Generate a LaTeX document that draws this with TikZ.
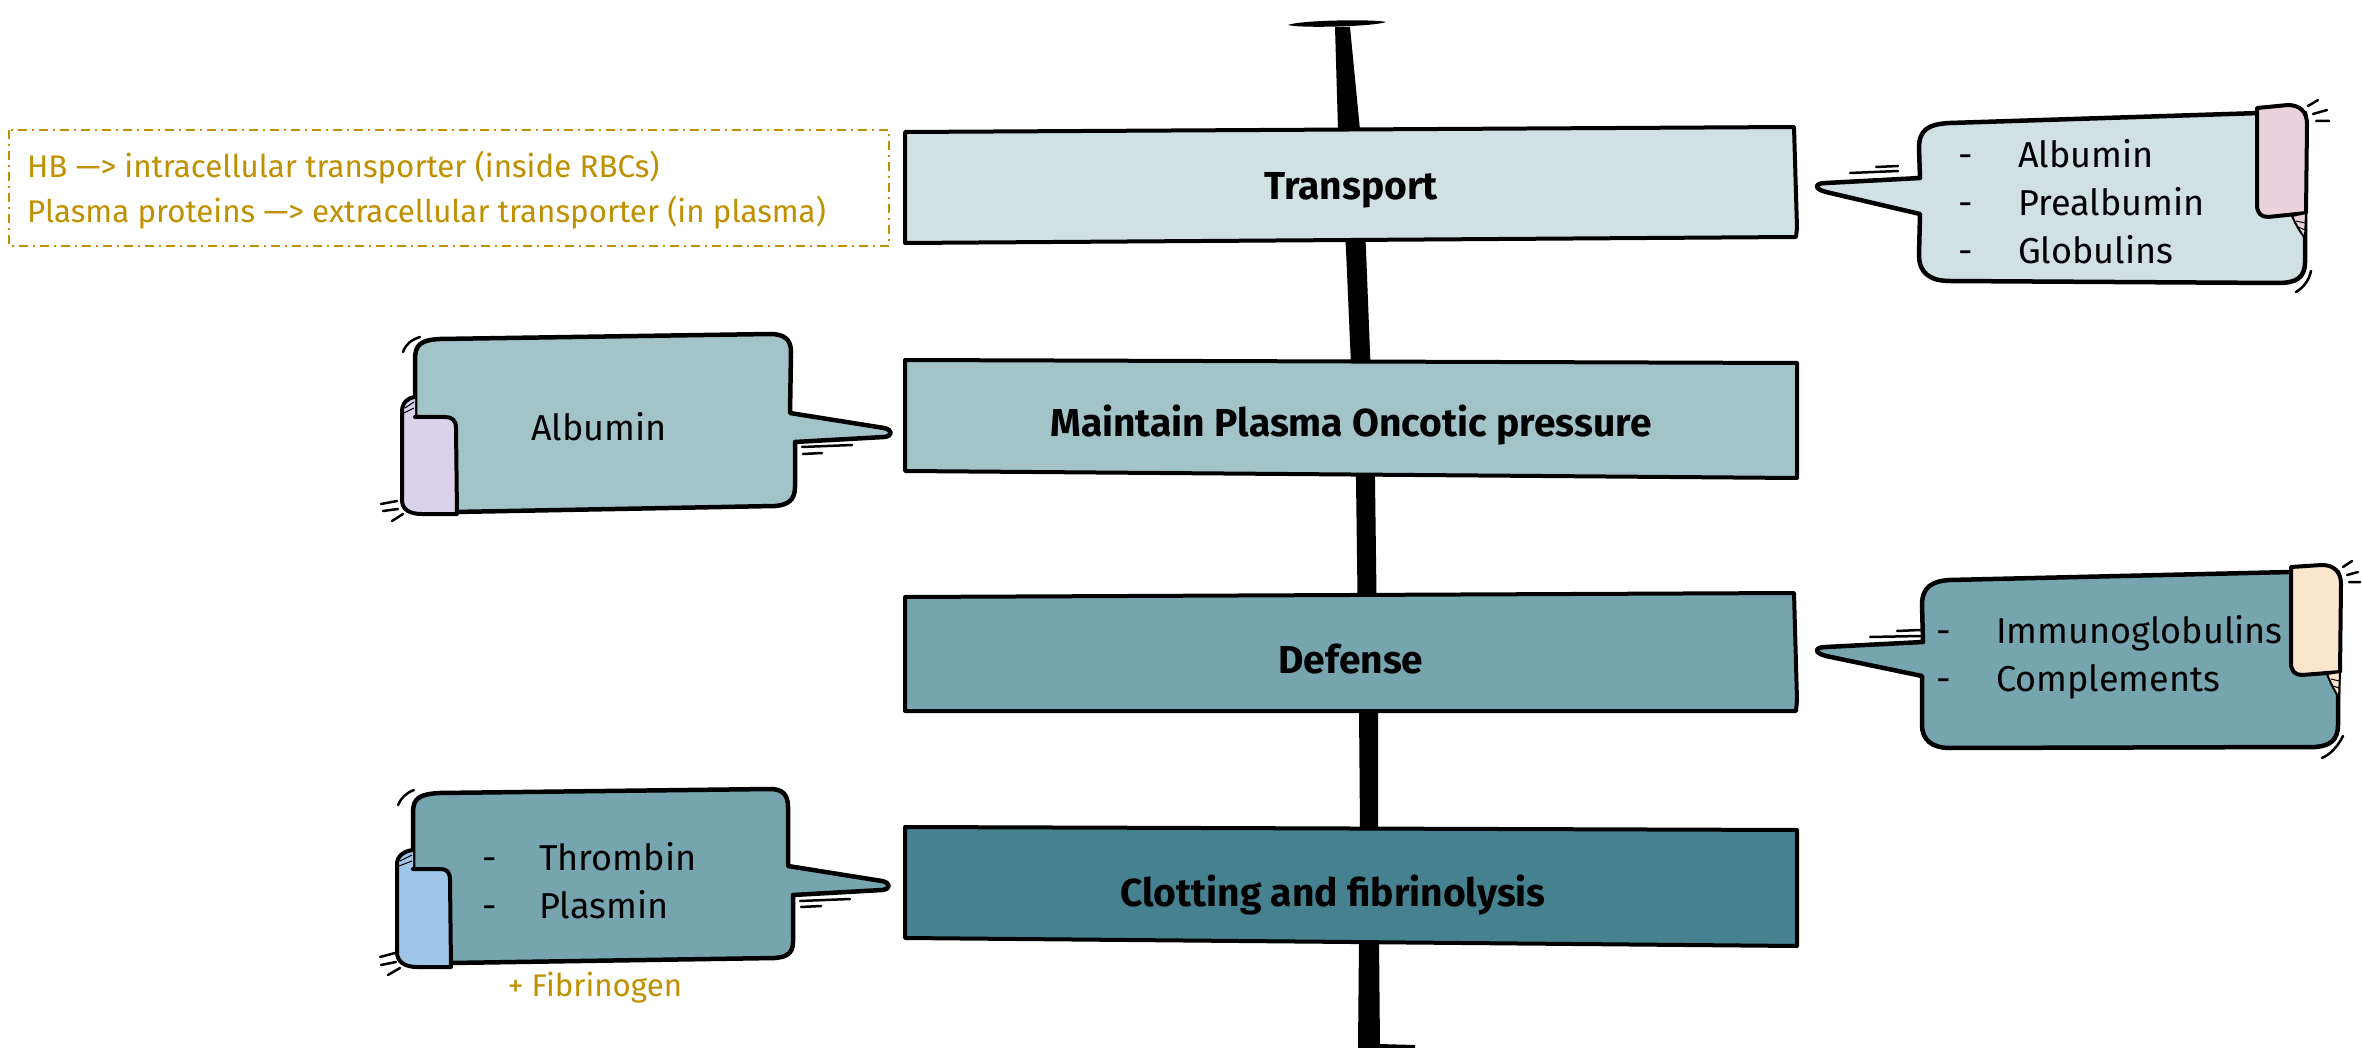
\documentclass[tikz,border=0pt]{standalone}
\usepackage{fontspec}
\setmainfont{Fira Sans}
\definecolor{c1}{HTML}{D0E0E3}
\definecolor{c2}{HTML}{A2C4C9}
\definecolor{c3}{HTML}{76A5AF}
\definecolor{c4}{HTML}{45818E}
\definecolor{gold}{HTML}{BF9000}
\definecolor{pinkc}{HTML}{EAD1DC}
\definecolor{lavc}{HTML}{D9D2E9}
\definecolor{peachc}{HTML}{FCE5CD}
\definecolor{bluec}{HTML}{9FC5E8}
\begin{document}
\begin{tikzpicture}[x=1pt,y=-1pt,
 boxline/.style={draw=black, line width=4pt, line join=round},
 bubble/.style={draw=black, line width=4.5pt, line join=round, line cap=round},
 scroll/.style={draw=black, line width=4pt, line join=round, line cap=round},
 speedmark/.style={draw=black, line width=2.5pt, line cap=round},
 hatch/.style={draw=black, line width=1pt},
 boxtext/.style={font=\fontsize{39}{44}\selectfont\bfseries, inner sep=0},
 bubtext/.style={font=\fontsize{36}{48}\selectfont, align=left, inner sep=0},
 notetext/.style={font=\fontsize{31.3}{45}\selectfont, text=gold, align=left, inner sep=0}]
\useasboundingbox (0,0) rectangle (2362,1048);
\fill[white] (0,0) rectangle (2362,1048);

% spine
\fill[black] (1335,27) -- (1338,130) -- (1346,250) -- (1356,480) -- (1359,710) -- (1360,830) -- (1358,1048)
  -- (1380,1048) -- (1378,830) -- (1378,710) -- (1375,480) -- (1366,250) -- (1360,130) -- (1350,27) -- cycle;
\fill[black] (1288,25) .. controls (1300,20) and (1375,19) .. (1386,22) .. controls (1375,26.5) and (1300,28.5) .. (1288,25) -- cycle;
\fill[black] (1378,1044) -- (1415,1045) -- (1415,1048) -- (1378,1048) -- cycle;

% main boxes
\path[boxline, fill=c1] (905,132) -- (1794,127) -- (1797,228) -- (1796,237) -- (905,243) -- cycle;
\path[boxline, fill=c2] (905,360) -- (1797,363) -- (1797,478) -- (905,471) -- cycle;
\path[boxline, fill=c3] (905,597) -- (1794,593) -- (1797,700) -- (1796,711) -- (905,711) -- cycle;
\path[boxline, fill=c4] (905,827) -- (1797,830) -- (1797,946) -- (905,938) -- cycle;
\node[boxtext] (transport) at (1351,190) {Transport};
\node[boxtext] (oncotic) at (1351,425) {Maintain Plasma Oncotic pressure};
\node[boxtext] (defense) at (1351,659) {Defense};
\node[boxtext] (clotting) at (1333,895) {Clotting and fibrinolysis};

% note
\draw[gold, line width=1.5pt, dash pattern=on 9pt off 5pt on 2pt off 5pt] (9,130) rectangle (889,246);
\node[notetext, anchor=west] (note) at (27,190) {HB —> intracellular transporter (inside RBCs)\\Plasma proteins —> extracellular transporter (in plasma)};

% transport callout
\path[bubble, fill=c1] (1920,178) -- (1919,148) .. controls (1919,130) and (1928,124) .. (1950,123) -- (2260,113) -- (2305,113) -- (2305,262)
  .. controls (2305,278) and (2296,283) .. (2278,283) -- (1950,281) .. controls (1930,281) and (1919,273) .. (1919,255) -- (1920,214)
  -- (1826,192) .. controls (1814,189) and (1814,183) .. (1826,183) -- cycle;
\path[scroll, fill=pinkc] (2257,108) -- (2288,105) .. controls (2300,105) and (2307,112) .. (2307,124) -- (2306,213) -- (2268,217)
  .. controls (2261,217) and (2257,213) .. (2257,205) -- cycle;
\path[draw=black, line width=2pt, fill=pinkc] (2292,216) -- (2306,213) -- (2305,238) .. controls (2300,232) and (2296,225) .. (2292,216) -- cycle;
\draw[hatch] (2296,221) -- (2305,223) (2298,227) -- (2305,230);
\draw[speedmark] (2308,106) -- (2318,100) (2313,114) -- (2327,110) (2316,121) -- (2329,121);
\draw[speedmark] (2296,292) .. controls (2304,287) and (2309,280) .. (2311,271);
\draw[speedmark] (1850,173) -- (1898,171) (1876,167) -- (1898,166);
\node[bubtext, anchor=west] (tlist) at (1958,202) {\makebox[60pt][l]{-}Albumin\\\makebox[60pt][l]{-}Prealbumin\\\makebox[60pt][l]{-}Globulins};

% albumin callout
\path[bubble, fill=c2] (795,442) -- (795,487) .. controls (795,500) and (788,505) .. (775,506) -- (455,512) -- (415,512) -- (415,360)
  .. controls (415,345) and (420,340) .. (440,339) -- (770,334) .. controls (785,334) and (791,340) .. (791,352) -- (790,413)
  -- (884,428) .. controls (893,430) and (893,436) .. (884,437) -- cycle;
\path[scroll, fill=lavc] (415,397) .. controls (407,398) and (402,403) .. (402,412) -- (402,500) .. controls (402,510) and (410,514) .. (422,514)
  -- (457,514) -- (456,428) .. controls (456,420) and (452,417) .. (445,417) -- (415,417);
\draw[hatch] (405,408) -- (414,402) (404,413) -- (414,408);
\draw[speedmark] (403,352) .. controls (406,344) and (411,340) .. (420,337);
\draw[speedmark] (381,504) -- (397,501) (383,511) -- (398,509) (392,521) -- (403,514);
\draw[speedmark] (802,447) -- (852,445) (803,454) -- (822,453);
\node[bubtext] (alb) at (599,427) {Albumin};

% defense callout
\path[bubble, fill=c3] (1923,642) -- (1922,605) .. controls (1922,587) and (1932,581) .. (1950,580) -- (2291,572) -- (2338,572) -- (2338,725)
  .. controls (2338,740) and (2330,746) .. (2315,747) -- (1950,748) .. controls (1932,748) and (1922,740) .. (1922,725) -- (1922,676)
  -- (1826,656) .. controls (1814,653) and (1814,647) .. (1826,647) -- cycle;
\path[scroll, fill=peachc] (2291,567) -- (2322,565) .. controls (2334,565) and (2341,572) .. (2341,584) -- (2340,672) -- (2302,675)
  .. controls (2295,675) and (2291,671) .. (2291,663) -- cycle;
\path[draw=black, line width=2pt, fill=peachc] (2327,674) -- (2340,672) -- (2339,698) .. controls (2334,690) and (2330,682) .. (2327,674) -- cycle;
\draw[hatch] (2331,679) -- (2339,681) (2333,686) -- (2339,688);
\draw[speedmark] (2343,567) -- (2352,561) (2347,575) -- (2358,572) (2349,582) -- (2360,582);
\draw[speedmark] (2322,758) .. controls (2331,754) and (2338,746) .. (2343,736);
\draw[speedmark] (1870,637) -- (1920,636) (1897,631) -- (1920,630);
\node[bubtext, anchor=west] (dlist) at (1936,657) {\makebox[60pt][l]{-}Immunoglobulins\\\makebox[60pt][l]{-}Complements};

% clotting callout
\path[bubble, fill=c3] (793,895) -- (793,942) .. controls (793,953) and (787,957) .. (775,958) -- (451,963) -- (413,963) -- (413,812)
  .. controls (413,798) and (420,794) .. (440,793) -- (770,789) .. controls (783,789) and (788,795) .. (788,807) -- (788,866)
  -- (882,881) .. controls (891,883) and (891,889) .. (882,890) -- cycle;
\path[scroll, fill=bluec] (413,850) .. controls (404,851) and (397,856) .. (397,864) -- (397,952) .. controls (397,962) and (405,967) .. (417,967)
  -- (451,967) -- (450,880) .. controls (450,872) and (447,869) .. (440,869) -- (413,869);
\draw[hatch] (400,861) -- (412,855) (399,866) -- (412,861);
\draw[speedmark] (398,805) .. controls (401,798) and (406,793) .. (414,790);
\draw[speedmark] (380,957) -- (395,953) (381,965) -- (396,962) (388,975) -- (400,968);
\draw[speedmark] (800,901) -- (850,899) (801,907) -- (821,906);
\node[bubtext, anchor=west] (clist) at (482,881) {\makebox[57pt][l]{-}Thrombin\\\makebox[57pt][l]{-}Plasmin};
\node[notetext] (fib) at (595,988) {+ Fibrinogen};
\end{tikzpicture}
\end{document}
